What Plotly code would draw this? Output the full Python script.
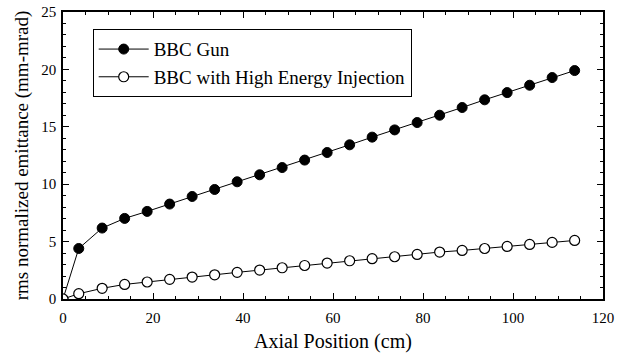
import plotly.graph_objects as go

x_pos = [0, 3.5, 8.7, 13.7, 18.7, 23.7, 28.7, 33.7, 38.7, 43.7, 48.7, 53.7, 58.7, 63.7,
         68.7, 73.7, 78.7, 83.7, 88.7, 93.7, 98.7, 103.7, 108.7, 113.7]
bbc_gun = [0, 4.40, 6.18, 7.02, 7.63, 8.27, 8.93, 9.54, 10.21, 10.82, 11.45, 12.1, 12.76, 13.43,
           14.1, 14.73, 15.37, 16.01, 16.68, 17.35, 17.98, 18.62, 19.29, 19.9]
bbc_hei = [0, 0.46, 0.93, 1.27, 1.48, 1.71, 1.91, 2.11, 2.32, 2.52, 2.72, 2.92, 3.13, 3.33,
           3.51, 3.68, 3.88, 4.09, 4.23, 4.40, 4.58, 4.75, 4.93, 5.10]
names = ["BBC Gun", "BBC with High Energy Injection"]

FONT = "Liberation Serif"

fig = go.Figure()
fig.add_trace(go.Scatter(x=x_pos, y=bbc_gun, mode="lines+markers", name=names[0],
                         line=dict(color="black", width=1),
                         marker=dict(symbol="circle", size=10, color="black",
                                     line=dict(color="black", width=1))))
fig.add_trace(go.Scatter(x=x_pos, y=bbc_hei, mode="lines+markers", name=names[1],
                         line=dict(color="black", width=1),
                         marker=dict(symbol="circle", size=10, color="white",
                                     line=dict(color="black", width=1.2))))

axis_common = dict(showline=True, linecolor="black", linewidth=1.5, mirror="ticks",
                   ticks="inside", ticklen=6, tickcolor="black", tickwidth=1,
                   showgrid=False, zeroline=False, automargin=False,
                   tickfont=dict(family=FONT, size=15, color="black"))

fig.update_xaxes(range=[0, 120], dtick=20, tick0=0, ticklabelstandoff=4,
                 minor=dict(ticks="inside", ticklen=3, dtick=5, tickcolor="black", showgrid=False),
                 title=dict(text="Axial Position (cm)", font=dict(family=FONT, size=20, color="black"),
                            standoff=12),
                 **axis_common)
fig.update_yaxes(range=[0, 25], dtick=5, tick0=0, ticklabelstandoff=2,
                 minor=dict(ticks="inside", ticklen=3, dtick=1, tickcolor="black", showgrid=False),
                 title=dict(text="rms normalized emittance (mm-mrad)", font=dict(family=FONT, size=19, color="black"),
                            standoff=8),
                 **axis_common)

fig.update_layout(
    width=623, height=353,
    margin=dict(l=63, r=20, t=12, b=54),
    paper_bgcolor="white", plot_bgcolor="white",
    font=dict(family=FONT, color="black"),
    showlegend=True,
    legend=dict(x=0.055, y=0.94, xanchor="left", yanchor="top",
                bordercolor="black", borderwidth=1, bgcolor="white",
                font=dict(family=FONT, size=19, color="black"),
                tracegroupgap=0, itemwidth=50),
)

fig.write_html("out.html")
